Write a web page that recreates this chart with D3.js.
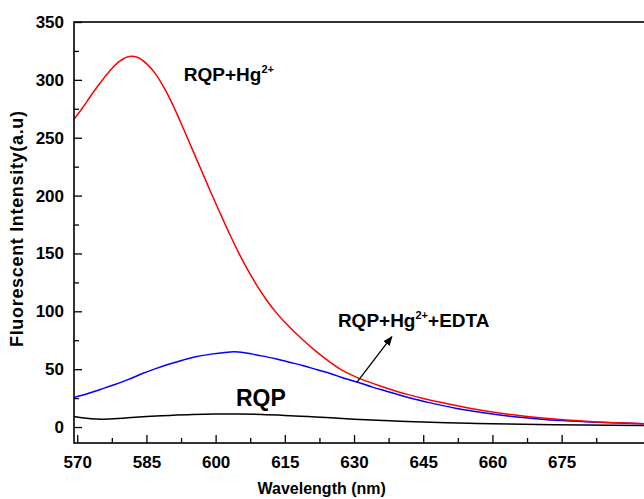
<!DOCTYPE html>
<html>
<head>
<meta charset="utf-8">
<script src="https://cdn.jsdelivr.net/npm/d3@7/dist/d3.min.js"></script>
<style>
  html, body { margin: 0; padding: 0; background: #fff; }
  svg { display: block; }
  text { font-family: "Liberation Sans", Arial, sans-serif; font-weight: bold; fill: #000; }
</style>
</head>
<body>
<svg id="chart" width="644" height="499"></svg>
<script>
// ---------- data ----------
const wlRed = [569.3,571,573,575,577,579,581,583,585,587,589,591,593,595,597,599,601,603,605,607,609,611,613,615,617,619,621,623,625,627,630,633,636,639,642,645,648,651,654,657,660,664,668,672,676,681,686,693];
const redVals = [266,275,286.5,297.5,307.5,315.5,320,319.5,314,305,292,276,258,239.5,221,202.5,184.5,167,150.5,135.5,122,110,99.5,90.5,82.5,75,68,61.5,55.5,50,44,39.2,35,31.2,27.8,24.7,22,19.4,17,14.9,13,10.8,8.9,7.3,6,4.8,3.8,2.9];

const wlBlue = [569.3,572,575,578,581,584,587,590,593,596,599,602,604,606,608,610,613,616,619,622,625,628,631,634,637,640,643,646,649,652,655,658,662,666,670,675,680,686,693];
const blueVals = [25.6,28.5,32.5,36.5,41,46,50.5,54.5,58,61,63,64.5,65,64.5,63,61.5,59,56,53,49.5,46,42,38.5,34.5,31,27.5,24.3,21.3,18.7,16.3,14.2,12.4,10.2,8.4,7,5.6,4.6,3.6,2.8];

const wlBlack = [569.3,571,573,575,578,581,585,590,595,600,605,610,615,620,625,630,635,640,645,650,655,660,670,680,693];
const blackVals = [9,8,7.2,6.8,7.2,8,9,10,10.8,11.2,11.2,10.8,10,9,8,6.8,5.8,5,4.3,3.7,3.2,2.8,2.2,1.8,1.4];

const xTicks = [570,585,600,615,630,645,660,675];
const xTickLabels = ["570","585","600","615","630","645","660","675"];
const xMinorTicks = [577.5,592.5,607.5,622.5,637.5,652.5,667.5,682.5];
const yTicks = [0,50,100,150,200,250,300,350];
const yMinorTicks = [25,75,125,175,225,275,325];

const xTitle = "Wavelength (nm)";
const yTitle = "Fluorescent Intensity(a.u)";

// annotation anchors (data coords)
const labelHg = {x: 593.1, y: 299.4};
const labelRQP = {x: 604.4, y: 17.8};
const labelEDTA = {x: 626.5, y: 86.5};
const arrowFrom = {x: 630.6, y: 38.6};
const arrowTo = {x: 638.2, y: 78.1};

// ---------- layout ----------
const mLeft = 74, mTop = 22, mBottom = 443;
const pxPerNm = 69.2 / 15;
const xMax = 700;
const mRight = mLeft + (xMax - 569.3) * pxPerNm;

const x = d3.scaleLinear().domain([569.3, xMax]).range([mLeft, mRight]);
const y = d3.scaleLinear().domain([-13.8, 350]).range([mBottom, mTop]);

const svg = d3.select("#chart");
const defs = svg.append("defs");
defs.append("clipPath").attr("id", "clip")
  .append("rect").attr("x", mLeft).attr("y", mTop).attr("width", mRight - mLeft).attr("height", mBottom - mTop);

defs.append("marker")
  .attr("id", "arrowhead").attr("viewBox", "0 0 10 10")
  .attr("refX", 9).attr("refY", 5).attr("markerWidth", 7.5).attr("markerHeight", 7.5)
  .attr("orient", "auto")
  .append("path").attr("d", "M0,1 L10,5 L0,9 Z").attr("fill", "#000");

// curves
const line = d3.line().x(d => x(d[0])).y(d => y(d[1])).curve(d3.curveCatmullRom.alpha(0.5));
const g = svg.append("g").attr("clip-path", "url(#clip)");
const series = [
  {w: wlBlack, v: blackVals, c: "#000000"},
  {w: wlBlue, v: blueVals, c: "#0000ff"},
  {w: wlRed, v: redVals, c: "#ff0000"}
];
series.forEach(s => {
  g.append("path")
    .datum(s.w.map((w, i) => [w, s.v[i]]))
    .attr("d", line)
    .attr("fill", "none")
    .attr("stroke", s.c)
    .attr("stroke-width", 1.5);
});

// axes
const xAxis = svg.append("g").attr("transform", `translate(0,${mBottom})`)
  .call(d3.axisBottom(x).tickValues(xTicks).tickSize(-8).tickSizeOuter(0).tickPadding(13)
    .tickFormat((d, i) => xTickLabels[i]));
const xAxisMinor = svg.append("g").attr("transform", `translate(0,${mBottom})`)
  .call(d3.axisBottom(x).tickValues(xMinorTicks).tickSize(-5).tickSizeOuter(0).tickFormat(""));
const yAxis = svg.append("g").attr("transform", `translate(${mLeft},0)`)
  .call(d3.axisLeft(y).tickValues(yTicks).tickSize(-8).tickSizeOuter(0).tickPadding(10).tickFormat(d3.format("d")));
const yAxisMinor = svg.append("g").attr("transform", `translate(${mLeft},0)`)
  .call(d3.axisLeft(y).tickValues(yMinorTicks).tickSize(-5).tickSizeOuter(0).tickFormat(""));

[xAxis, xAxisMinor, yAxis, yAxisMinor].forEach(a => {
  a.attr("font-family", null).attr("font-size", null);
  a.select(".domain").remove();
  a.selectAll(".tick line").attr("stroke", "#000").attr("stroke-width", 1.3);
  a.selectAll(".tick text").attr("font-size", 17).style("font-weight", "bold");
});

// frame
svg.append("rect")
  .attr("x", mLeft).attr("y", mTop).attr("width", mRight - mLeft).attr("height", mBottom - mTop)
  .attr("fill", "none").attr("stroke", "#000").attr("stroke-width", 1.6);

// titles
svg.append("text")
  .attr("x", 321.7).attr("y", 494)
  .attr("text-anchor", "middle").attr("font-size", 16)
  .text(xTitle);

svg.append("text")
  .attr("transform", "translate(23,229) rotate(-90)")
  .attr("text-anchor", "middle").attr("font-size", 18)
  .attr("textLength", 236).attr("lengthAdjust", "spacing")
  .text(yTitle);

// annotations
function hgLabel(pos, suffix, size) {
  const t = svg.append("text").attr("x", x(pos.x)).attr("y", y(pos.y)).attr("font-size", size);
  t.append("tspan").text("RQP+Hg");
  t.append("tspan").attr("font-size", Math.round(size * 0.6)).attr("dy", -8).text("2+");
  if (suffix) t.append("tspan").attr("dy", 8).text(suffix);
}
hgLabel(labelHg, "", 19);
hgLabel(labelEDTA, "+EDTA", 19);

svg.append("text").attr("x", x(labelRQP.x)).attr("y", y(labelRQP.y)).attr("font-size", 23).text("RQP");

svg.append("line")
  .attr("x1", x(arrowFrom.x)).attr("y1", y(arrowFrom.y))
  .attr("x2", x(arrowTo.x)).attr("y2", y(arrowTo.y))
  .attr("stroke", "#000").attr("stroke-width", 1.3)
  .attr("marker-end", "url(#arrowhead)");
</script>
</body>
</html>
